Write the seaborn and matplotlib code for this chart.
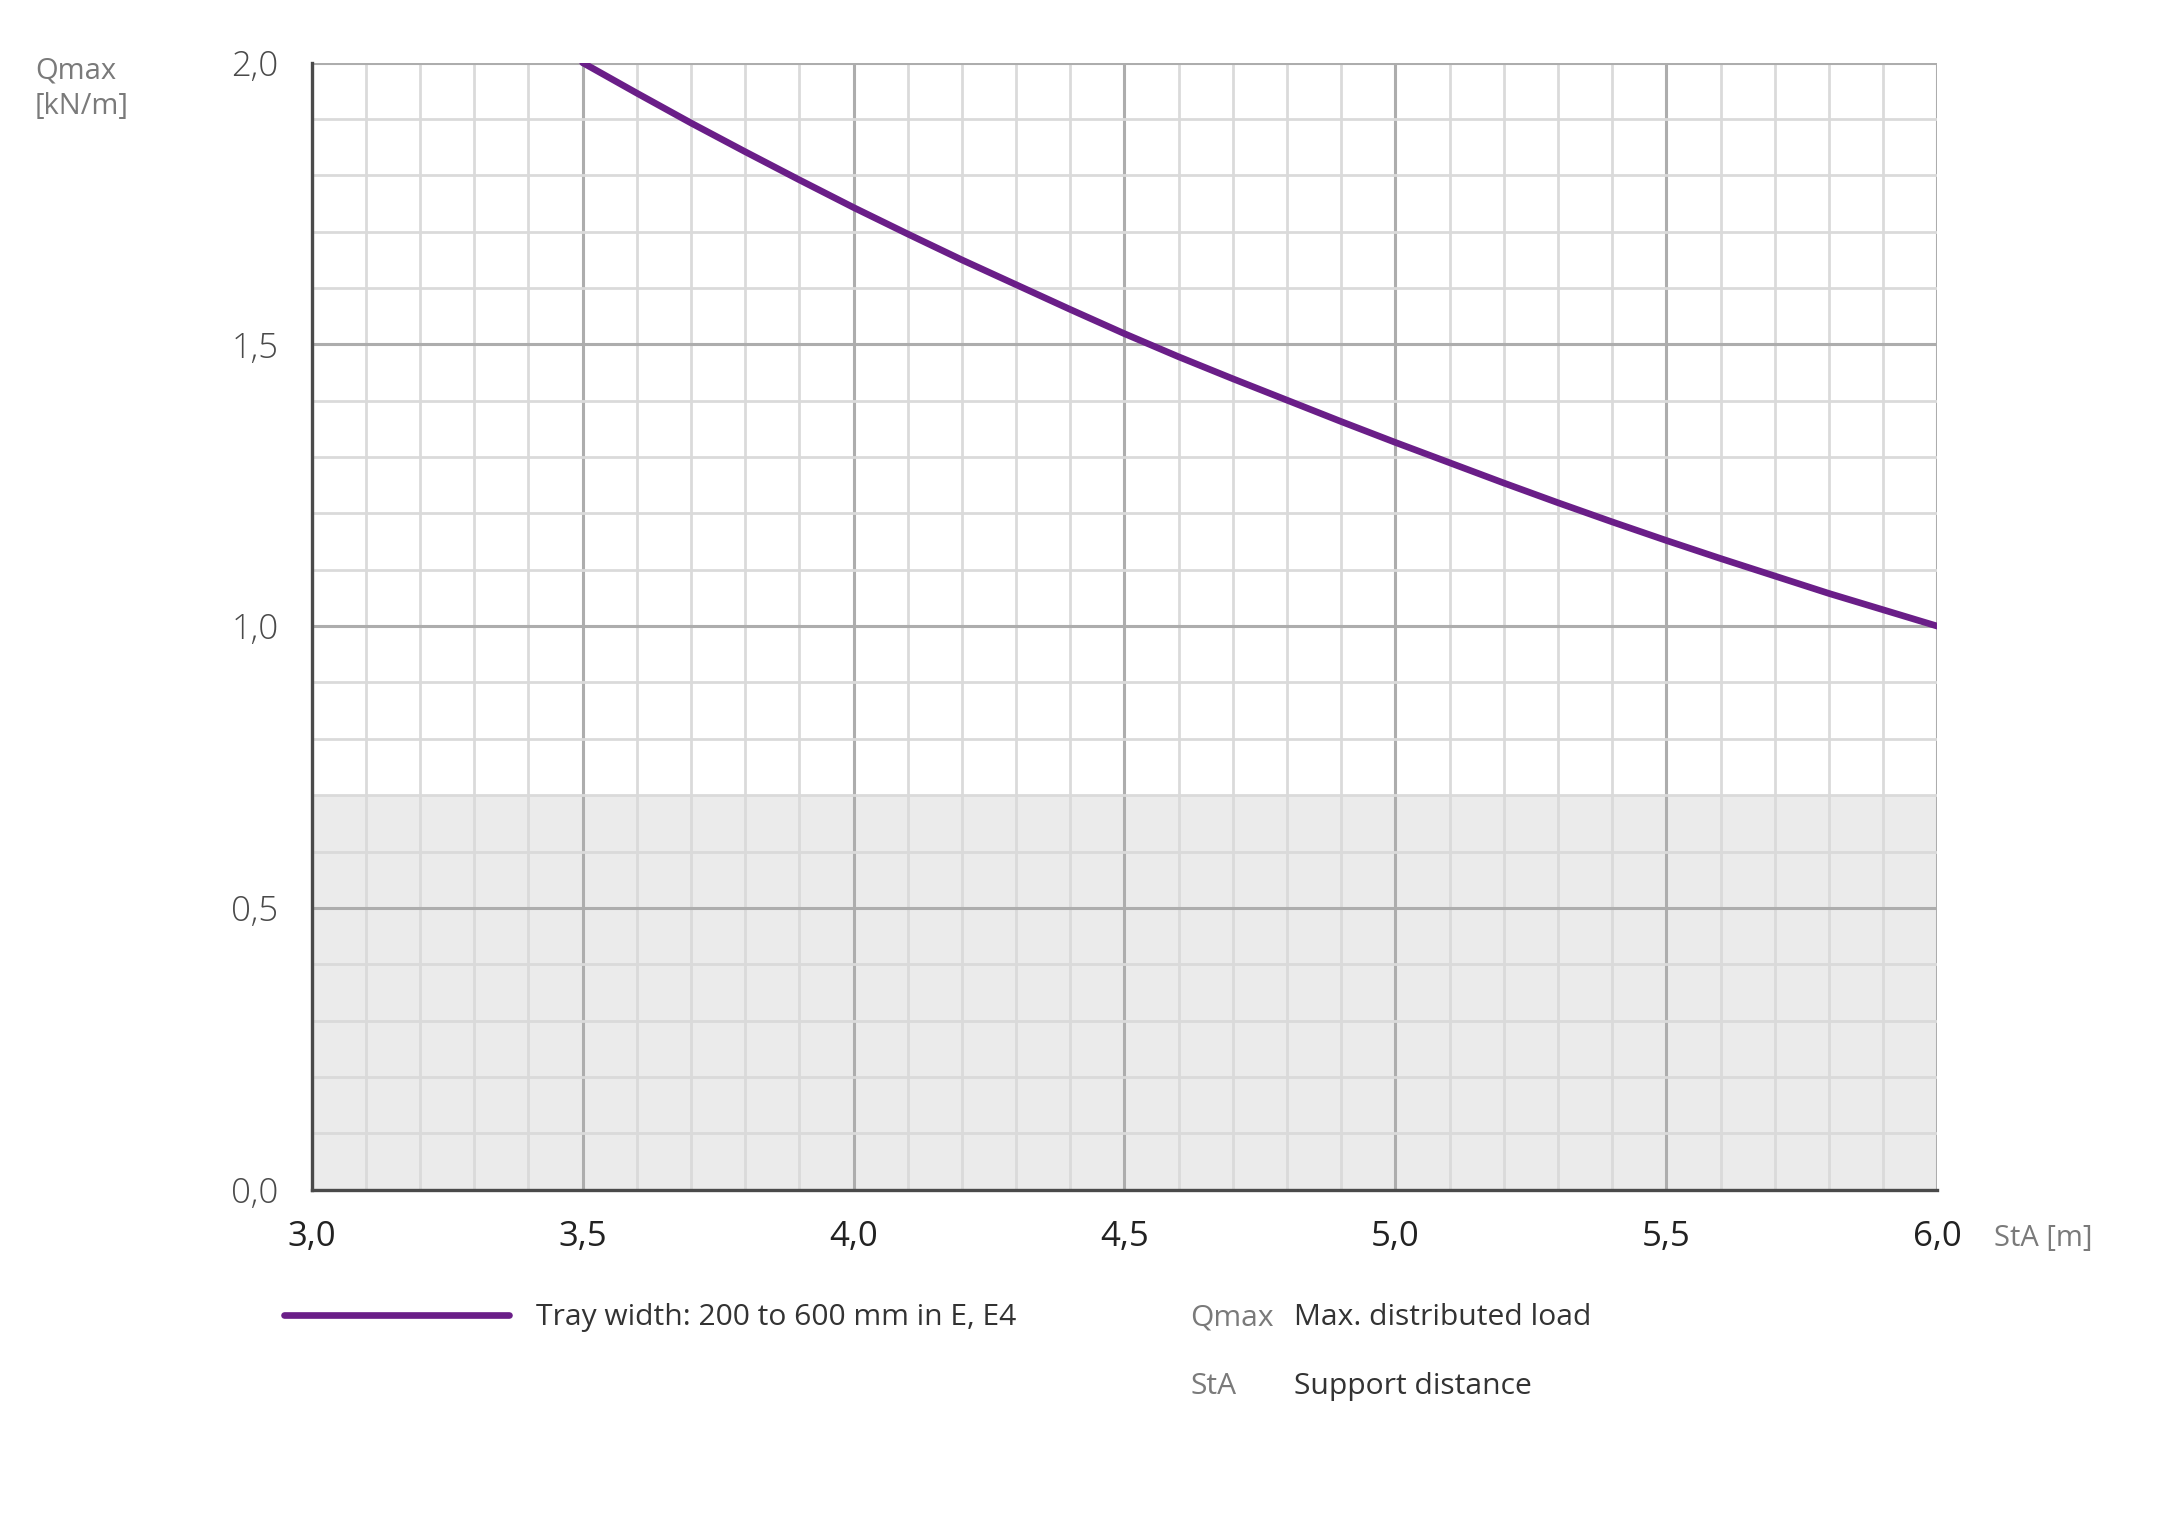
import numpy as np
import pandas as pd
import matplotlib.pyplot as plt
import seaborn as sns
from matplotlib.ticker import MultipleLocator, FuncFormatter

sns.set_style("white")
plt.rcParams['font.family'] = ['Open Sans', 'DejaVu Sans']

# Data
support_distance = [3.5, 3.6, 3.7, 3.8, 3.9, 4.0, 4.1, 4.2, 4.3, 4.4, 4.5, 4.6, 4.7,
                    4.8, 4.9, 5.0, 5.1, 5.2, 5.3, 5.4, 5.5, 5.6, 5.7, 5.8, 5.9, 6.0]
max_load = [2.000, 1.946, 1.893, 1.842, 1.792, 1.743, 1.696, 1.650, 1.606, 1.562,
            1.519, 1.478, 1.439, 1.401, 1.363, 1.326, 1.290, 1.254, 1.219, 1.185,
            1.152, 1.120, 1.089, 1.058, 1.029, 1.000]
series_label = "Tray width: 200 to 600 mm in E, E4"
shade_limit = 0.7

df = pd.DataFrame({'StA': support_distance, 'Qmax': max_load})

purple = '#6a1e88'
grey_text = '#7a7a7a'
body_text = '#333333'

fig = plt.figure(figsize=(10.8, 7.645), dpi=200)
ax = fig.add_axes([0.1443, 0.222, 0.7526, 0.737])

# grey band for the low-load zone
ax.axhspan(0, shade_limit, color='#ebebeb', zorder=0, lw=0)

sns.lineplot(data=df, x='StA', y='Qmax', color=purple, linewidth=2.4,
             label=series_label, ax=ax, zorder=5, solid_capstyle='round')

ax.set_xlim(3.0, 6.0)
ax.set_ylim(0.0, 2.0)
ax.xaxis.set_major_locator(MultipleLocator(0.5))
ax.xaxis.set_minor_locator(MultipleLocator(0.1))
ax.yaxis.set_major_locator(MultipleLocator(0.5))
ax.yaxis.set_minor_locator(MultipleLocator(0.1))

comma = FuncFormatter(lambda v, p: f"{v:.1f}".replace('.', ','))
ax.xaxis.set_major_formatter(comma)
ax.yaxis.set_major_formatter(comma)

ax.set_axisbelow(True)
ax.grid(which='major', color='#adadad', linewidth=1.1, zorder=1)
ax.grid(which='minor', color='#dadada', linewidth=1.0, zorder=1)

for side in ['top', 'right']:
    ax.spines[side].set_visible(False)
for side in ['left', 'bottom']:
    ax.spines[side].set_color('#4a4a4a')
    ax.spines[side].set_linewidth(1.2)

ax.tick_params(axis='x', which='major', direction='out', length=4, width=1.1,
               color='#4a4a4a', pad=7, labelsize=12.5, labelcolor='#222222')
ax.tick_params(axis='y', which='major', direction='out', length=4, width=1.1,
               color='#4a4a4a', pad=8, labelsize=12.5, labelcolor='#4a4a4a')
ax.tick_params(which='minor', length=0)
for lab in ax.get_yticklabels():
    lab.set_fontweight('light')
ax.set_xlabel('')
ax.set_ylabel('')

# axis titles
fig.text(0.0161, 0.963, "Qmax\n[kN/m]", ha='left', va='top', fontsize=10.5,
         color=grey_text, linespacing=1.3)
fig.text(0.923, 0.190, "StA [m]", ha='left', va='center', fontsize=10.5,
         color=grey_text)

# legend under the chart
ax.legend(loc='center left', bbox_to_anchor=(0.1314, 0.138),
          bbox_transform=fig.transFigure, frameon=False, fontsize=10.8,
          handlelength=7.5, handletextpad=0.92, borderpad=0,
          borderaxespad=0, labelcolor=body_text)

# abbreviations key
key_rows = [("Qmax", "Max. distributed load", 0.138),
            ("StA", "Support distance", 0.0934)]
for short, long_text, yy in key_rows:
    fig.text(0.551, yy, short, ha='left', va='center', fontsize=10.8,
             color=grey_text)
    fig.text(0.599, yy, long_text, ha='left', va='center', fontsize=10.8,
             color=body_text)

fig.savefig('out.png', dpi=200, facecolor='white')
